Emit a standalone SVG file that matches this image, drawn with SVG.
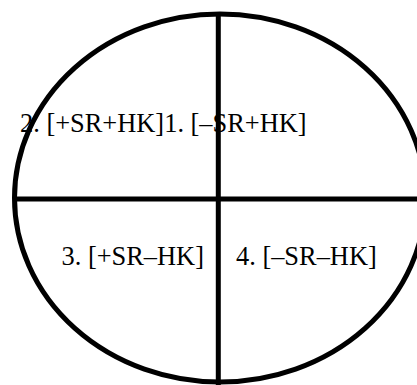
<svg xmlns="http://www.w3.org/2000/svg" width="417" height="385" viewBox="0 0 417 385">
<style>
.ln{fill:none;stroke:#000;stroke-width:5}
text{font-family:'Liberation Serif','Times New Roman',Times,serif;font-size:26.4px;fill:#000}
</style>
<rect width="417" height="385" fill="#fff"/>
<g id="connectors">
<ellipse class="ln" cx="220" cy="198" rx="205.5" ry="184"/>
<line class="ln" x1="218.3" y1="14" x2="218.3" y2="385"/>
<line class="ln" x1="14" y1="199" x2="417" y2="199"/>
</g>
<g id="q2"><text x="20" y="132">2. [+SR+HK]</text></g>
<g id="q1"><text x="164.2" y="132">1. [–SR+HK]</text></g>
<g id="q3"><text x="61.5" y="265">3. [+SR–HK]</text></g>
<g id="q4"><text x="236" y="265">4. [–SR–HK]</text></g>
</svg>
